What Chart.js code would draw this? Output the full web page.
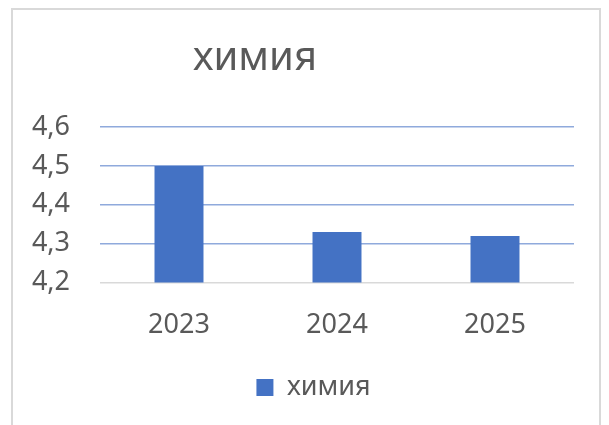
<!DOCTYPE html>
<html>
<head>
<meta charset="utf-8">
<script src="https://cdn.jsdelivr.net/npm/chart.js@4.4.1/dist/chart.umd.min.js"></script>
<style>
  body { margin: 0; background: #fff; }
  #wrap { position: relative; width: 609px; height: 425px; overflow: hidden; }
  #frame { position: absolute; left: 11px; top: 8px; width: 590px; height: 440px; border: 2px solid #D9D9D9; box-sizing: border-box; }
  canvas { position: absolute; left: 0; top: 0; }
</style>
</head>
<body>
<div id="wrap">
  <div id="frame"></div>
  <canvas id="chem_chart" width="609" height="425"></canvas>
</div>
<script>
var labelYears = ['2023', '2024', '2025'];
var dataChem = [4.5, 4.33, 4.32];
var seriesName = 'химия';
var yMin = 4.2;
var yMax = 4.6;
var yStep = 0.1;

var textColor = '#595959';
var fontName = "'Noto Sans', sans-serif";

// title sits left of the plot centre, legend a bit right of it
var blockShift = {
    id: 'blockShift',
    afterLayout: function(chart) {
        chart.titleBlock.right -= 94;
        chart.legend.left += 23;
    }
};

var ctxChem = document.getElementById('chem_chart').getContext('2d');
var chem_chart = new Chart(ctxChem, {
    type: 'bar',
    data: {
        labels: labelYears,
        datasets: [{
            label: seriesName,
            data: dataChem,
            backgroundColor: '#4472C4',
            borderWidth: 0,
            categoryPercentage: 1,
            barPercentage: 0.31
        }]
    },
    plugins: [blockShift],
    options: {
        responsive: false,
        animation: false,
        layout: {
            padding: { left: 30, right: 35, top: 35, bottom: 14 }
        },
        plugins: {
            title: {
                display: true,
                text: seriesName,
                color: textColor,
                font: { family: fontName, size: 40, weight: 'normal' },
                padding: { top: 0, bottom: 44 }
            },
            legend: {
                position: 'bottom',
                labels: {
                    color: textColor,
                    font: { family: fontName, size: 27 },
                    boxWidth: 17,
                    boxHeight: 17,
                    padding: 13
                }
            },
            tooltip: { enabled: false }
        },
        scales: {
            x: {
                grid: { display: false },
                border: { display: false },
                ticks: {
                    color: textColor,
                    font: { family: fontName, size: 27 },
                    padding: 19
                }
            },
            y: {
                min: yMin,
                max: yMax,
                border: { display: false },
                grid: {
                    drawTicks: false,
                    lineWidth: 1.5,
                    color: function(context) {
                        if (context.tick && Math.abs(context.tick.value - yMin) < 1e-6) {
                            return '#D9D9D9';
                        }
                        return '#8FAADC';
                    }
                },
                ticks: {
                    stepSize: yStep,
                    color: textColor,
                    font: { family: fontName, size: 27 },
                    padding: 30,
                    callback: function(value) {
                        return value.toFixed(1).replace('.', ',');
                    }
                },
                afterFit: function(scale) {
                    scale.width = 70;
                }
            }
        }
    }
});
</script>
</body>
</html>
